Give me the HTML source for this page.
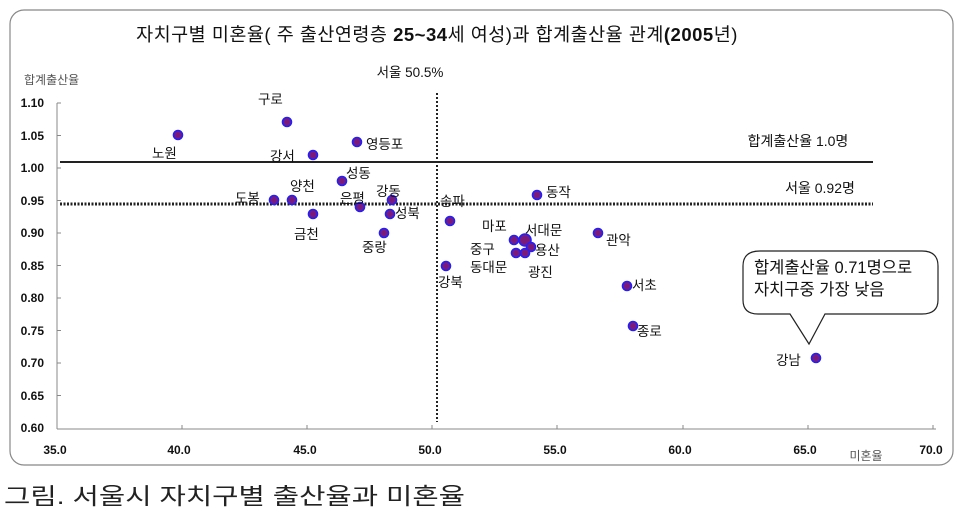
<!DOCTYPE html>
<html><head><meta charset="utf-8"><style>
html,body{margin:0;padding:0;background:#fff;}
svg{display:block;font-family:"Liberation Sans","Noto Sans CJK KR",sans-serif;}
</style></head><body>
<svg width="960" height="520" viewBox="0 0 960 520" xmlns="http://www.w3.org/2000/svg">
<rect x="10" y="10" width="943" height="455" rx="14" fill="#fff" stroke="#888" stroke-width="1.2"/>
<text x="437" y="41" text-anchor="middle" font-size="18.5" fill="#111" letter-spacing="0.5">자치구별 미혼율( 주 출산연령층 <tspan font-weight="bold">25~34</tspan>세 여성)과 합계출산율 관계<tspan font-weight="bold">(2005</tspan>년)</text>
<text x="24" y="84" font-size="12" fill="#555">합계출산율</text>
<text x="410" y="77" text-anchor="middle" font-size="13.5" fill="#111">서울 50.5%</text>
<g stroke="#888" stroke-width="1">
<line x1="57" y1="103" x2="57" y2="429"/>
<line x1="57" y1="429" x2="936" y2="429"/>
<line x1="57" y1="103" x2="61" y2="103"/><line x1="57" y1="135.5" x2="61" y2="135.5"/><line x1="57" y1="168" x2="61" y2="168"/><line x1="57" y1="200.5" x2="61" y2="200.5"/><line x1="57" y1="233" x2="61" y2="233"/><line x1="57" y1="265.5" x2="61" y2="265.5"/><line x1="57" y1="298" x2="61" y2="298"/><line x1="57" y1="330.5" x2="61" y2="330.5"/><line x1="57" y1="363" x2="61" y2="363"/><line x1="57" y1="395.5" x2="61" y2="395.5"/>
<line x1="182" y1="425" x2="182" y2="429"/><line x1="307" y1="425" x2="307" y2="429"/><line x1="432" y1="425" x2="432" y2="429"/><line x1="557" y1="425" x2="557" y2="429"/><line x1="683" y1="425" x2="683" y2="429"/><line x1="808" y1="425" x2="808" y2="429"/><line x1="933" y1="425" x2="933" y2="429"/>
</g>
<g font-size="12" font-weight="bold" fill="#111" text-anchor="end">
<text x="44" y="107">1.10</text><text x="44" y="140">1.05</text><text x="44" y="172">1.00</text><text x="44" y="205">0.95</text><text x="44" y="237">0.90</text><text x="44" y="270">0.85</text><text x="44" y="302">0.80</text><text x="44" y="335">0.75</text><text x="44" y="367">0.70</text><text x="44" y="400">0.65</text><text x="44" y="432">0.60</text>
</g>
<g font-size="12" font-weight="bold" fill="#111" text-anchor="middle">
<text x="55" y="454">35.0</text><text x="179" y="454">40.0</text><text x="305" y="454">45.0</text><text x="430" y="454">50.0</text><text x="555" y="454">55.0</text><text x="680" y="454">60.0</text><text x="805" y="454">65.0</text><text x="931" y="454">70.0</text>
</g>
<text x="866" y="460" text-anchor="middle" font-size="12" fill="#555">미혼율</text>
<line x1="60" y1="162" x2="873" y2="162" stroke="#222" stroke-width="2"/>
<line x1="60" y1="204" x2="873" y2="204" stroke="#222" stroke-width="3" stroke-dasharray="2,1.5"/>
<line x1="437" y1="93" x2="437" y2="422" stroke="#222" stroke-width="2" stroke-dasharray="2,2"/>
<text x="798" y="146" text-anchor="middle" font-size="14" fill="#111">합계출산율 1.0명</text>
<text x="820" y="193" text-anchor="middle" font-size="14" fill="#111">서울 0.92명</text>
<g fill="#7a1a7a" stroke="#2020ff" stroke-width="1.6">
<circle cx="178" cy="135" r="4.5"/><circle cx="287" cy="122" r="4.5"/><circle cx="313" cy="155" r="4.5"/><circle cx="357" cy="142" r="4.5"/>
<circle cx="342" cy="181" r="4.5"/><circle cx="274" cy="200" r="4.5"/><circle cx="292" cy="200" r="4.5"/><circle cx="313" cy="214" r="4.5"/>
<circle cx="360" cy="207" r="4.5"/><circle cx="392" cy="200" r="4.5"/><circle cx="390" cy="214" r="4.5"/><circle cx="384" cy="233" r="4.5"/>
<circle cx="450" cy="221" r="4.5"/><circle cx="446" cy="266" r="4.5"/><circle cx="537" cy="195" r="4.5"/><circle cx="598" cy="233" r="4.5"/>
<circle cx="627" cy="286" r="4.5"/><circle cx="633" cy="326" r="4.5"/><circle cx="816" cy="358" r="4.5"/>
<circle cx="514" cy="240" r="4.5"/><circle cx="525" cy="240" r="6"/><circle cx="531" cy="247" r="4.5"/><circle cx="516" cy="253" r="4.5"/><circle cx="525" cy="253" r="4.5"/>
</g>
<g font-size="13.5" fill="#111">
<text x="152" y="158">노원</text><text x="258" y="104">구로</text><text x="270" y="161">강서</text><text x="366" y="149">영등포</text>
<text x="346" y="178">성동</text><text x="235" y="203">도봉</text><text x="290" y="191">양천</text><text x="294" y="239">금천</text>
<text x="340" y="203">은평</text><text x="376" y="196">강동</text><text x="395" y="218">성북</text><text x="362" y="252">중랑</text>
<text x="440" y="206">송파</text><text x="438" y="287">강북</text><text x="546" y="197">동작</text><text x="606" y="245">관악</text>
<text x="632" y="290">서초</text><text x="637" y="336">종로</text><text x="776" y="365">강남</text>
<text x="482" y="231">마포</text><text x="525" y="235">서대문</text><text x="535" y="255">용산</text><text x="470" y="254">중구</text><text x="470" y="272">동대문</text><text x="528" y="277">광진</text>
</g>
<path d="M760,251 L922,251 Q938,251 938,266 L938,300 Q938,314 922,314 L825,314 L809,344 L790,314 L758,314 Q743,314 743,300 L743,266 Q743,251 760,251 Z" fill="#fff" stroke="#222" stroke-width="1.2"/>
<text x="754" y="273" font-size="16.5" fill="#111">합계출산율 0.71명으로</text>
<text x="754" y="295" font-size="16.5" fill="#111">자치구중 가장 낮음</text>
<text x="4" y="504" font-size="23" fill="#222" textLength="461" lengthAdjust="spacingAndGlyphs">그림. 서울시 자치구별 출산율과 미혼율</text>
</svg>
</body></html>
